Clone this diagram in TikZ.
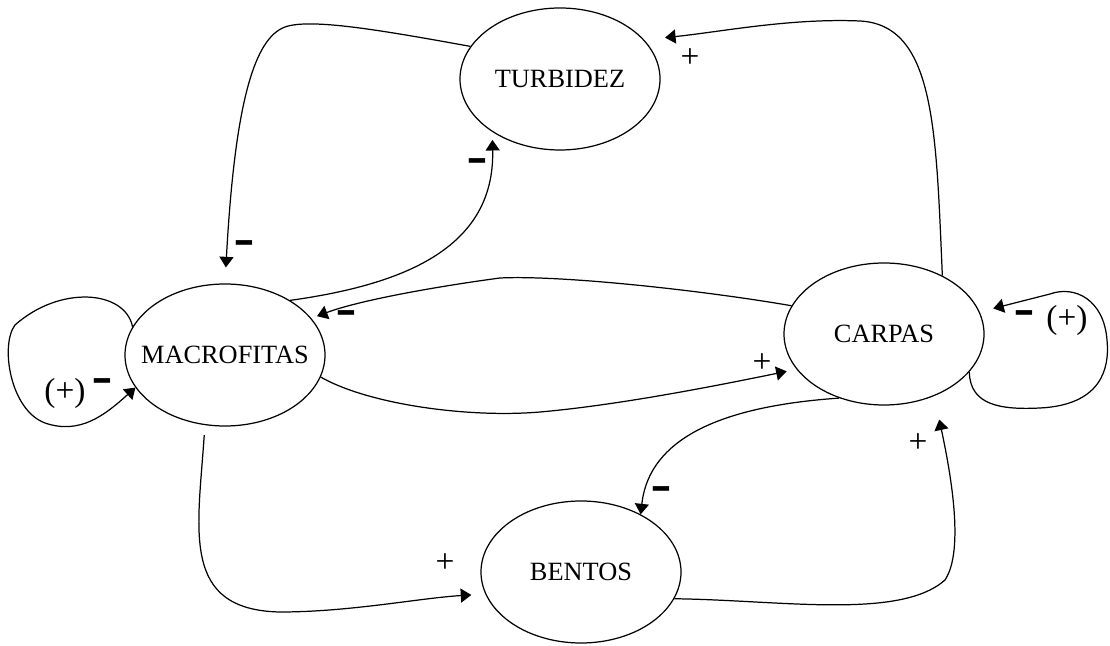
\documentclass[tikz,border=0pt]{standalone}
\usepackage{fontspec}
\setmainfont{Liberation Serif}
\usetikzlibrary{shapes.geometric,arrows.meta}

\newcommand{\msign}{\scalebox{0.95}[2.0]{\textbf{--}}}

\begin{document}
\begin{tikzpicture}
  \tikzstyle{every node}=[font=\fontsize{15}{18}\selectfont]
  \tikzstyle{box}=[ellipse,draw,line width=0.7pt,minimum width=4cm,minimum height=2.84cm,inner sep=0pt]
  \tikzstyle{sign}=[font=\fontsize{19}{22}\selectfont,inner sep=0pt]
  \tikzstyle{arr}=[line width=0.7pt,-{Triangle[length=6pt,width=8pt]}]
  \useasboundingbox (0,0) rectangle (22.2,12.9);

  % the four compartments
  \node[box,label=center:TURBIDEZ] (tb) at (11.2,11.32) {};
  \node[box,label=center:MACROFITAS] (mf) at (4.5,5.8) {};
  \node[box,label=center:CARPAS] (cp) at (17.68,6.22) {};
  \node[box,label=center:BENTOS] (bt) at (11.62,1.46) {};

  % links
  \draw[arr,shorten >=0.32cm] (tb.160) .. controls (7.6,12.3) and (6.2,12.54) .. (5.7,12.36)
        .. controls (5.1,12.14) and (4.7,10.9) .. (mf.north);
  \draw[arr,shorten >=0.16cm] (mf.40) .. controls (8.0,7.2) and (9.9,7.9) .. (tb.218);
  \draw[arr,shorten >=0.42cm] (cp.45) .. controls (18.72,10.3) and (18.7,12.4) .. (17.2,12.48)
        .. controls (15.8,12.54) and (14.4,12.26) .. (tb.25);
  \draw[arr,shorten >=0.12cm] (cp.163) .. controls (14.0,7.1) and (11.2,7.4) .. (10.0,7.34)
        .. controls (8.8,7.18) and (7.2,6.9) .. (mf.23);
  \draw[arr,shorten >=0.2cm] (mf.347) .. controls (7.4,4.8) and (9.4,4.54) .. (10.8,4.66)
        .. controls (12.4,4.8) and (14.4,5.2) .. (cp.202);
  \draw[arr] (cp.235) .. controls (14.8,4.8) and (13.0,4.3) .. (bt.44);
  \draw[arr,shorten >=0.48cm] (bt.344) .. controls (15.6,0.9) and (18.0,0.5) .. (18.9,1.3)
        .. controls (19.3,1.9) and (19.0,3.5) .. (cp.309);
  \draw[arr,shorten <=0.2cm,shorten >=0.28cm] (mf.254) .. controls (3.96,2.3) and (3.6,0.7) .. (5.6,0.66)
        .. controls (7.0,0.66) and (8.4,0.94) .. (bt.193);

  % self loops
  \draw[arr] (mf.163) .. controls (2.5,7.1) and (1.2,7.2) .. (0.3,6.4)
        .. controls (0,6.0) and (0.2,4.7) .. (0.9,4.44)
        .. controls (1.6,4.2) and (2.1,4.6) .. (mf.200);
  \draw[arr,shorten >=0.28cm] (cp.336) .. controls (19.4,4.8) and (20.0,4.7) .. (20.8,4.74)
        .. controls (22.0,4.8) and (22.2,5.5) .. (22.14,6.1)
        .. controls (22.08,6.9) and (21.5,7.2) .. (21.0,7.02) -- (cp.13);

  % signs
  \node[sign] (s1) at (4.9,7.9) {\msign};
  \node[sign] (s2) at (9.56,9.54) {\msign};
  \node[sign] (s3) at (13.8,11.74) {+};
  \node[sign] (s4) at (6.94,6.5) {\msign};
  \node[sign] (s5) at (15.24,5.64) {+};
  \node[sign] (s6) at (13.24,2.98) {\msign};
  \node[sign] (s7) at (18.36,4.04) {+};
  \node[sign] (s8) at (8.9,1.64) {+};
  \node[sign] (s9) at (1.3,5.04) {(+)};
  \node[sign] (s10) at (2.06,5.14) {\msign};
  \node[sign] (s11) at (20.5,6.5) {\msign};
  \node[sign] (s12) at (21.34,6.5) {(+)};
\end{tikzpicture}
\end{document}
